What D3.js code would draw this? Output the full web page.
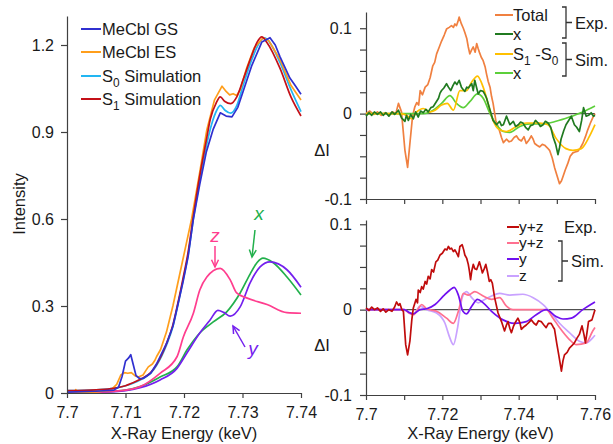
<!DOCTYPE html>
<html>
<head>
<meta charset="utf-8">
<script src="https://cdn.jsdelivr.net/npm/d3@7"></script>
<style>
  html, body { margin: 0; padding: 0; background: #fff; }
  svg { display: block; font-family: "Liberation Sans", Arial, sans-serif; }
  .axis path, .axis line { stroke: #404040; stroke-width: 1.2; }
  .axis text { fill: #1a1a1a; font-size: 16px; font-family: "Liberation Sans", Arial, sans-serif; }
</style>
</head>
<body>
<svg id="chart" width="613" height="444"></svg>
<script>
// ---------- XANES spectra (left panel): [energy keV, normalized intensity] ----------
const mecblGS = [[7.700,0.003],[7.705,0.006],[7.708,0.010],[7.7088,0.020],[7.7094,0.056],[7.7100,0.110],[7.7105,0.120],[7.7109,0.132],[7.7113,0.100],[7.7118,0.060],[7.7124,0.050],[7.7130,0.050],[7.7143,0.068],[7.7153,0.100],[7.7170,0.170],[7.7181,0.230],[7.7189,0.300],[7.7198,0.380],[7.7207,0.470],[7.7216,0.600],[7.7227,0.720],[7.7238,0.830],[7.7250,0.910],[7.7262,0.966],[7.7272,0.955],[7.7282,0.952],[7.7292,0.985],[7.7301,1.040],[7.7316,1.130],[7.7333,1.210],[7.7347,1.225],[7.7356,1.200],[7.7364,1.160],[7.7381,1.086],[7.7390,1.060],[7.7400,1.030]];
const mecblES = [[7.700,0.000],[7.7013,0.000],[7.7015,0.012],[7.7018,0.000],[7.705,0.004],[7.7075,0.010],[7.7085,0.030],[7.7092,0.062],[7.7098,0.070],[7.7104,0.068],[7.7110,0.070],[7.7116,0.060],[7.7122,0.055],[7.7130,0.062],[7.7135,0.078],[7.7139,0.090],[7.7146,0.100],[7.7150,0.112],[7.7153,0.125],[7.7160,0.150],[7.7170,0.210],[7.7181,0.300],[7.7197,0.450],[7.7213,0.600],[7.7226,0.750],[7.7239,0.907],[7.7252,1.010],[7.7265,1.058],[7.7272,1.040],[7.7278,1.028],[7.7284,1.032],[7.7290,1.026],[7.7296,1.045],[7.7307,1.120],[7.7320,1.190],[7.7335,1.225],[7.7345,1.215],[7.7364,1.150],[7.7383,1.060],[7.7400,1.010]];
const simS0 = [[7.700,0.008],[7.705,0.011],[7.708,0.016],[7.710,0.025],[7.712,0.040],[7.7130,0.050],[7.7143,0.068],[7.7153,0.095],[7.7170,0.165],[7.7181,0.228],[7.7189,0.298],[7.7198,0.385],[7.7207,0.475],[7.7216,0.600],[7.7227,0.735],[7.7238,0.850],[7.7247,0.925],[7.7256,0.975],[7.7262,0.992],[7.7270,0.975],[7.7280,0.965],[7.7290,0.990],[7.7301,1.060],[7.7316,1.150],[7.7328,1.205],[7.7338,1.225],[7.7346,1.210],[7.7364,1.140],[7.7383,1.045],[7.7400,0.970]];
const simS1 = [[7.700,0.008],[7.705,0.011],[7.708,0.016],[7.710,0.025],[7.712,0.042],[7.7130,0.052],[7.7143,0.070],[7.7153,0.098],[7.7170,0.170],[7.7181,0.235],[7.7189,0.305],[7.7198,0.392],[7.7207,0.485],[7.7216,0.610],[7.7227,0.750],[7.7238,0.870],[7.7245,0.945],[7.7255,1.000],[7.7262,1.021],[7.7270,1.005],[7.7280,0.998],[7.7290,1.020],[7.7301,1.080],[7.7316,1.165],[7.7325,1.210],[7.7333,1.228],[7.7342,1.208],[7.7364,1.120],[7.7383,1.020],[7.7400,0.955]];
// polarized components of the simulated spectrum
const compX = [[7.700,0.000],[7.705,0.003],[7.710,0.010],[7.7125,0.022],[7.7159,0.055],[7.7188,0.090],[7.7205,0.148],[7.7227,0.207],[7.7250,0.245],[7.7273,0.280],[7.7296,0.345],[7.7313,0.410],[7.7325,0.450],[7.7335,0.465],[7.7352,0.450],[7.7376,0.400],[7.7400,0.338]];
const compY = [[7.700,0.000],[7.705,0.002],[7.710,0.008],[7.7125,0.018],[7.7159,0.045],[7.7188,0.085],[7.7205,0.138],[7.7227,0.207],[7.7244,0.250],[7.7258,0.285],[7.7268,0.278],[7.7279,0.265],[7.7296,0.297],[7.7313,0.380],[7.7330,0.435],[7.7347,0.452],[7.7376,0.425],[7.7400,0.365]];
const compZ = [[7.700,0.000],[7.705,0.003],[7.710,0.010],[7.7125,0.022],[7.7159,0.068],[7.7188,0.125],[7.7199,0.194],[7.7216,0.275],[7.7227,0.355],[7.7239,0.400],[7.7262,0.430],[7.7279,0.390],[7.7290,0.345],[7.7307,0.328],[7.7342,0.305],[7.7376,0.277],[7.7400,0.275]];

// ---------- difference spectra, upper right: [energy keV, ΔI] ----------
const diffTotalExp = [[7.7000,0.000],[7.7010,0.003],[7.7020,-0.001],[7.7030,0.002],[7.7040,-0.002],[7.7050,0.001],[7.7060,-0.001],[7.7070,0.002],[7.7078,0.000],[7.7085,0.012],[7.7093,0.002],[7.7102,-0.043],[7.7109,-0.063],[7.7115,-0.035],[7.7122,-0.003],[7.7128,0.008],[7.7133,0.013],[7.7138,0.010],[7.7142,0.027],[7.7148,0.022],[7.7155,0.031],[7.7162,0.034],[7.7168,0.042],[7.7175,0.056],[7.7180,0.060],[7.7185,0.070],[7.7192,0.078],[7.7198,0.085],[7.7205,0.092],[7.7211,0.099],[7.7218,0.101],[7.7224,0.103],[7.7229,0.101],[7.7233,0.105],[7.7237,0.103],[7.7241,0.108],[7.7244,0.113],[7.7250,0.105],[7.7255,0.100],[7.7259,0.095],[7.7264,0.088],[7.7268,0.078],[7.7272,0.070],[7.7277,0.075],[7.7281,0.078],[7.7286,0.072],[7.7290,0.082],[7.7294,0.076],[7.7297,0.072],[7.7302,0.066],[7.7307,0.062],[7.7312,0.055],[7.7316,0.046],[7.7320,0.038],[7.7325,0.031],[7.7329,0.020],[7.7333,0.012],[7.7340,-0.008],[7.7349,-0.019],[7.7355,-0.028],[7.7360,-0.034],[7.7368,-0.030],[7.7375,-0.033],[7.7381,-0.032],[7.7388,-0.028],[7.7394,-0.026],[7.7400,-0.030],[7.7407,-0.032],[7.7414,-0.027],[7.7420,-0.035],[7.7427,-0.031],[7.7433,-0.026],[7.7438,-0.030],[7.7442,-0.035],[7.7448,-0.037],[7.7455,-0.039],[7.7462,-0.036],[7.7468,-0.037],[7.7475,-0.040],[7.7481,-0.043],[7.7488,-0.052],[7.7494,-0.063],[7.7500,-0.072],[7.7507,-0.082],[7.7512,-0.079],[7.7516,-0.074],[7.7522,-0.066],[7.7529,-0.058],[7.7535,-0.050],[7.7542,-0.046],[7.7548,-0.045],[7.7555,-0.044],[7.7562,-0.040],[7.7568,-0.035],[7.7575,-0.027],[7.7581,-0.019],[7.7588,-0.011],[7.7594,-0.005],[7.7600,0.000]];
const diffXExp = [[7.7000,-0.003],[7.7008,0.001],[7.7015,-0.002],[7.7022,0.002],[7.7030,-0.001],[7.7038,0.002],[7.7045,-0.002],[7.7052,0.001],[7.7060,-0.003],[7.7068,0.002],[7.7075,-0.001],[7.7085,0.004],[7.7093,-0.005],[7.7102,-0.009],[7.7106,-0.002],[7.7111,-0.008],[7.7117,-0.001],[7.7124,-0.006],[7.7130,0.002],[7.7137,-0.004],[7.7143,0.003],[7.7150,0.001],[7.7157,0.005],[7.7163,0.002],[7.7170,0.007],[7.7176,0.008],[7.7183,0.013],[7.7190,0.018],[7.7194,0.024],[7.7198,0.027],[7.7204,0.030],[7.7211,0.035],[7.7216,0.031],[7.7222,0.027],[7.7228,0.033],[7.7233,0.037],[7.7238,0.034],[7.7244,0.039],[7.7250,0.031],[7.7255,0.028],[7.7259,0.026],[7.7264,0.031],[7.7268,0.030],[7.7273,0.033],[7.7277,0.035],[7.7281,0.027],[7.7285,0.039],[7.7290,0.030],[7.7294,0.023],[7.7300,0.027],[7.7307,0.026],[7.7312,0.022],[7.7316,0.018],[7.7321,0.010],[7.7325,0.004],[7.7333,-0.008],[7.7342,-0.013],[7.7350,-0.009],[7.7355,-0.014],[7.7360,-0.013],[7.7368,-0.003],[7.7377,-0.013],[7.7386,-0.009],[7.7392,-0.015],[7.7399,-0.013],[7.7405,-0.010],[7.7411,-0.011],[7.7418,-0.016],[7.7425,-0.019],[7.7431,-0.014],[7.7438,-0.013],[7.7444,-0.008],[7.7451,-0.011],[7.7457,-0.015],[7.7464,-0.013],[7.7470,-0.009],[7.7477,-0.011],[7.7484,-0.016],[7.7490,-0.027],[7.7497,-0.036],[7.7503,-0.048],[7.7507,-0.040],[7.7511,-0.030],[7.7518,-0.020],[7.7524,-0.013],[7.7531,-0.008],[7.7538,-0.003],[7.7546,-0.013],[7.7552,-0.016],[7.7559,-0.021],[7.7565,-0.008],[7.7570,0.007],[7.7577,-0.003],[7.7583,-0.002],[7.7590,0.001],[7.7596,-0.003],[7.7600,-0.002]];
const diffS1S0Sim = [[7.7000,0.000],[7.7090,0.000],[7.7106,-0.002],[7.7119,-0.006],[7.7133,0.002],[7.7150,0.006],[7.7168,0.002],[7.7181,0.004],[7.7198,0.010],[7.7213,0.012],[7.7229,0.004],[7.7246,0.027],[7.7263,0.027],[7.7277,0.037],[7.7292,0.044],[7.7307,0.031],[7.7321,0.010],[7.7333,-0.008],[7.7350,-0.019],[7.7368,-0.021],[7.7394,-0.015],[7.7420,-0.011],[7.7455,-0.011],[7.7477,-0.013],[7.7498,-0.029],[7.7524,-0.041],[7.7542,-0.043],[7.7564,-0.041],[7.7585,-0.027],[7.7600,-0.013]];
const diffXSim = [[7.7000,0.000],[7.7150,0.000],[7.7176,0.004],[7.7198,0.012],[7.7220,0.021],[7.7237,0.012],[7.7255,0.007],[7.7272,0.014],[7.7292,0.023],[7.7307,0.018],[7.7325,0.000],[7.7342,-0.013],[7.7360,-0.021],[7.7377,-0.022],[7.7403,-0.015],[7.7429,-0.012],[7.7464,-0.012],[7.7498,-0.009],[7.7533,-0.004],[7.7568,0.002],[7.7600,0.009]];

// ---------- difference spectra, lower right ----------
const diffYZExp = [[7.7000,0.002],[7.7008,-0.001],[7.7015,0.003],[7.7022,0.000],[7.7030,0.002],[7.7038,-0.002],[7.7045,0.001],[7.7052,-0.003],[7.7060,0.000],[7.7068,-0.002],[7.7075,0.003],[7.7080,0.009],[7.7085,0.005],[7.7089,0.007],[7.7094,0.000],[7.7098,-0.002],[7.7104,-0.041],[7.7109,-0.053],[7.7115,-0.037],[7.7120,-0.012],[7.7124,0.002],[7.7131,0.012],[7.7135,0.008],[7.7137,0.023],[7.7142,0.020],[7.7146,0.027],[7.7150,0.024],[7.7155,0.033],[7.7159,0.030],[7.7163,0.039],[7.7168,0.036],[7.7172,0.047],[7.7177,0.044],[7.7183,0.056],[7.7188,0.058],[7.7194,0.064],[7.7200,0.066],[7.7207,0.071],[7.7212,0.070],[7.7216,0.074],[7.7220,0.071],[7.7224,0.072],[7.7229,0.068],[7.7233,0.070],[7.7238,0.066],[7.7242,0.062],[7.7246,0.074],[7.7252,0.076],[7.7256,0.070],[7.7259,0.064],[7.7264,0.060],[7.7268,0.053],[7.7271,0.045],[7.7274,0.035],[7.7277,0.045],[7.7281,0.053],[7.7285,0.048],[7.7290,0.047],[7.7294,0.052],[7.7297,0.056],[7.7301,0.050],[7.7305,0.043],[7.7310,0.048],[7.7314,0.053],[7.7318,0.045],[7.7323,0.033],[7.7327,0.035],[7.7331,0.031],[7.7337,0.014],[7.7346,-0.004],[7.7355,-0.014],[7.7363,-0.025],[7.7368,-0.018],[7.7372,-0.014],[7.7377,-0.022],[7.7381,-0.027],[7.7386,-0.020],[7.7390,-0.016],[7.7398,-0.010],[7.7403,-0.015],[7.7407,-0.023],[7.7414,-0.020],[7.7420,-0.018],[7.7427,-0.015],[7.7433,-0.012],[7.7440,-0.016],[7.7446,-0.018],[7.7452,-0.013],[7.7459,-0.014],[7.7466,-0.018],[7.7472,-0.021],[7.7478,-0.016],[7.7485,-0.016],[7.7490,-0.020],[7.7494,-0.023],[7.7500,-0.040],[7.7505,-0.053],[7.7512,-0.072],[7.7516,-0.060],[7.7520,-0.053],[7.7527,-0.050],[7.7533,-0.045],[7.7540,-0.042],[7.7546,-0.039],[7.7552,-0.034],[7.7559,-0.029],[7.7566,-0.019],[7.7571,-0.029],[7.7575,-0.039],[7.7579,-0.027],[7.7583,-0.014],[7.7592,-0.012],[7.7600,0.000]];
const diffYZSim = [[7.7000,0.000],[7.7100,0.000],[7.7112,-0.004],[7.7124,-0.006],[7.7137,0.001],[7.7146,0.006],[7.7159,0.001],[7.7185,-0.002],[7.7211,-0.010],[7.7229,-0.016],[7.7242,-0.002],[7.7255,0.019],[7.7268,0.017],[7.7285,0.021],[7.7307,0.016],[7.7329,0.012],[7.7350,0.014],[7.7368,0.004],[7.7385,0.000],[7.7440,0.000],[7.7472,0.000],[7.7490,-0.010],[7.7507,-0.021],[7.7533,-0.035],[7.7551,-0.041],[7.7577,-0.039],[7.7594,-0.025],[7.7600,-0.021]];
const diffYSim = [[7.7000,0.000],[7.7100,0.000],[7.7112,-0.003],[7.7124,-0.005],[7.7142,0.000],[7.7159,0.001],[7.7181,0.006],[7.7203,0.016],[7.7220,0.023],[7.7231,0.026],[7.7242,0.017],[7.7254,-0.002],[7.7263,-0.005],[7.7277,0.004],[7.7292,0.012],[7.7307,0.008],[7.7329,-0.002],[7.7359,-0.012],[7.7390,-0.016],[7.7420,-0.014],[7.7446,-0.006],[7.7472,0.000],[7.7498,-0.008],[7.7516,-0.011],[7.7538,-0.010],[7.7568,0.000],[7.7600,0.009]];
const diffZSim = [[7.7000,0.000],[7.7100,0.000],[7.7112,-0.003],[7.7124,-0.005],[7.7142,0.004],[7.7159,0.000],[7.7185,-0.004],[7.7207,-0.016],[7.7218,-0.031],[7.7229,-0.041],[7.7240,-0.021],[7.7252,0.014],[7.7263,0.021],[7.7277,0.014],[7.7294,0.008],[7.7311,0.012],[7.7329,0.016],[7.7350,0.019],[7.7377,0.017],[7.7411,0.018],[7.7438,0.014],[7.7464,0.006],[7.7485,-0.004],[7.7507,-0.016],[7.7533,-0.027],[7.7559,-0.037],[7.7577,-0.039],[7.7594,-0.033],[7.7600,-0.030]];

// ---------- tick values ----------
const leftEnergyTicks = [7.70, 7.71, 7.72, 7.73, 7.74];
const leftIntensityTicks = [0, 0.3, 0.6, 0.9, 1.2];
const rightEnergyTicks = [7.70, 7.71, 7.72, 7.73, 7.74, 7.75, 7.76];
const rightEnergyLabels = [7.70, 7.72, 7.74, 7.76];
const deltaTicks = [-0.1, -0.075, -0.05, -0.025, 0, 0.025, 0.05, 0.075, 0.1];
const deltaLabels = [-0.1, 0, 0.1];

const svg = d3.select("#chart");

const eFmt = d => String(+d.toFixed(2));
const near = (a, b) => Math.abs(a - b) < 1e-9;

// ---------- left panel ----------
const xL = d3.scaleLinear().domain([7.70, 7.74]).range([67, 301]);
const yL = d3.scaleLinear().domain([0, 1.3]).range([393, 16]);

const gL = svg.append("g");
const lineL = d3.line().x(d => xL(d[0])).y(d => yL(d[1]));
const smoothL = d3.line().x(d => xL(d[0])).y(d => yL(d[1])).curve(d3.curveMonotoneX);

const leftSeries = [
  { data: compX, color: "#22b04c", smooth: true },
  { data: compY, color: "#7420ee", smooth: true },
  { data: compZ, color: "#ff3d8e", smooth: true },
  { data: simS0, color: "#22b6f2", smooth: true },
  { data: mecblES, color: "#ff9e1b", smooth: false },
  { data: simS1, color: "#c41018", smooth: true },
  { data: mecblGS, color: "#3030d0", smooth: false }
];
leftSeries.forEach(s => {
  gL.append("path").datum(s.data)
    .attr("fill", "none").attr("stroke", s.color).attr("stroke-width", 1.7)
    .attr("stroke-linejoin", "round")
    .attr("d", s.smooth ? smoothL : lineL);
});

gL.append("g").attr("class", "axis").attr("transform", "translate(0,393)")
  .call(d3.axisBottom(xL).tickValues(leftEnergyTicks).tickFormat(eFmt).tickSize(5).tickSizeOuter(0).tickPadding(9));
gL.append("g").attr("class", "axis").attr("transform", "translate(67,0)")
  .call(d3.axisLeft(yL).tickValues(leftIntensityTicks).tickFormat(d => d === 0 ? "0" : d3.format(".1f")(d)).tickSize(6).tickSizeOuter(0).tickPadding(7));

gL.append("text").attr("x", 184).attr("y", 439).attr("text-anchor", "middle")
  .attr("font-size", 16.5).attr("fill", "#1a1a1a").text("X-Ray Energy (keV)");
gL.append("text").attr("transform", "translate(25,204) rotate(-90)").attr("text-anchor", "middle")
  .attr("font-size", 16.5).attr("fill", "#1a1a1a").text("Intensity");

// legend
const legendL = [
  { label: ["MeCbl GS"], color: "#3030d0" },
  { label: ["MeCbl ES"], color: "#ff9e1b" },
  { label: ["S", "0", " Simulation"], color: "#22b6f2" },
  { label: ["S", "1", " Simulation"], color: "#c41018" }
];
const legendRows = [29, 52, 76, 99];

function subLabel(textSel, parts, size) {
  // parts alternate: normal, subscript, normal, subscript ...
  parts.forEach((p, i) => {
    const sub = i % 2 === 1;
    textSel.append("tspan").text(p)
      .attr("font-size", sub ? size * 0.72 : size)
      .attr("dy", sub ? 5 : (i > 0 ? -5 : 0));
  });
}

legendL.forEach((d, i) => {
  const y = legendRows[i];
  gL.append("line").attr("x1", 81).attr("x2", 101).attr("y1", y).attr("y2", y)
    .attr("stroke", d.color).attr("stroke-width", 2);
  const t = gL.append("text").attr("x", 102).attr("y", y + 6).attr("font-size", 16.5).attr("fill", "#1a1a1a");
  subLabel(t, d.label, 16.5);
});

// component annotations
function arrow(g, x1, y1, x2, y2, color) {
  g.append("line").attr("x1", x1).attr("y1", y1).attr("x2", x2).attr("y2", y2)
    .attr("stroke", color).attr("stroke-width", 1.5);
  const a = Math.atan2(y2 - y1, x2 - x1), L = 8, w = 0.45;
  const p = [
    [x2 - L * Math.cos(a - w), y2 - L * Math.sin(a - w)],
    [x2, y2],
    [x2 - L * Math.cos(a + w), y2 - L * Math.sin(a + w)]
  ];
  g.append("path").attr("d", d3.line()(p)).attr("fill", "none")
    .attr("stroke", color).attr("stroke-width", 1.5);
}
const annot = [
  { t: "x", tx: 259, ty: 220, color: "#22b04c", a: [255, 230, 252, 257] },
  { t: "z", tx: 215, ty: 242, color: "#ff3d8e", a: [215, 246, 215, 267] },
  { t: "y", tx: 253, ty: 355, color: "#7420ee", a: [245, 347, 233, 326] }
];
annot.forEach(d => {
  gL.append("text").attr("x", d.tx).attr("y", d.ty).attr("text-anchor", "middle")
    .attr("font-size", 19).attr("font-style", "italic").attr("fill", d.color).text(d.t);
  arrow(gL, ...d.a, d.color);
});

// ---------- right panels ----------
const xR = d3.scaleLinear().domain([7.70, 7.76]).range([366, 595]);
const yRT = d3.scaleLinear().domain([-0.1, 0.119]).range([199, 12]);
const yRB = d3.scaleLinear().domain([-0.1, 0.105]).range([395, 220]);

function deltaAxis(g, y, xLabels) {
  g.append("line").attr("x1", xR(7.70)).attr("x2", xR(7.76)).attr("y1", y(0)).attr("y2", y(0))
    .attr("stroke", "#505050").attr("stroke-width", 1.4);
  g.append("g").attr("class", "axis").attr("transform", `translate(0,${y(-0.1)})`)
    .call(d3.axisBottom(xR).tickValues(rightEnergyTicks).tickSize(5).tickSizeOuter(0).tickPadding(9)
      .tickFormat(d => xLabels && rightEnergyLabels.some(v => near(v, d)) ? eFmt(d) : ""));
  g.append("g").attr("class", "axis").attr("transform", "translate(366,0)")
    .call(d3.axisLeft(y).tickValues(deltaTicks).tickSize(6).tickSizeOuter(0).tickPadding(8)
      .tickFormat(d => deltaLabels.some(v => near(v, d)) ? (near(d, 0) ? "0" : d3.format(".1f")(d).replace("\u2212", "-")) : ""));
}

const lineR = (y, smooth) => {
  const l = d3.line().x(d => xR(d[0])).y(d => y(d[1]));
  return smooth ? l.curve(d3.curveMonotoneX) : l;
};

// upper right: total and x-polarized difference spectra
const gT = svg.append("g");
deltaAxis(gT, yRT, false);
const topSeries = [
  { data: diffTotalExp, color: "#f08040", smooth: false },
  { data: diffXSim, color: "#5ccf3a", smooth: true },
  { data: diffS1S0Sim, color: "#ffc000", smooth: true },
  { data: diffXExp, color: "#207a20", smooth: false }
];
topSeries.forEach(s => {
  gT.append("path").datum(s.data).attr("fill", "none").attr("stroke", s.color)
    .attr("stroke-width", 1.7).attr("stroke-linejoin", "round").attr("d", lineR(yRT, s.smooth));
});
gT.append("text").attr("x", 322).attr("y", 156).attr("text-anchor", "middle")
  .attr("font-size", 16.5).attr("fill", "#1a1a1a").text("ΔI");

const legendT = [
  { label: ["Total"], color: "#f08040", y: 15 },
  { label: ["x"], color: "#207a20", y: 34 },
  { label: ["S", "1", " -S", "0"], color: "#ffc000", y: 54 },
  { label: ["x"], color: "#5ccf3a", y: 73 }
];
legendT.forEach(d => {
  gT.append("line").attr("x1", 495).attr("x2", 513).attr("y1", d.y).attr("y2", d.y)
    .attr("stroke", d.color).attr("stroke-width", 2);
  const t = gT.append("text").attr("x", 513).attr("y", d.y + 6).attr("font-size", 16.5).attr("fill", "#1a1a1a");
  subLabel(t, d.label, 16.5);
});

function bracket(g, x, y1, y2, label) {
  const ym = (y1 + y2) / 2;
  g.append("path")
    .attr("d", `M${x - 4},${y1}H${x}V${y2}H${x - 4}M${x},${ym}H${x + 6}`)
    .attr("fill", "none").attr("stroke", "#333").attr("stroke-width", 1.3);
  g.append("text").attr("x", x + 9).attr("y", ym + 6).attr("font-size", 16.5).attr("fill", "#1a1a1a").text(label);
}
bracket(gT, 566, 7, 38, "Exp.");
bracket(gT, 566, 43, 76, "Sim.");

// lower right: y+z difference spectra
const gB = svg.append("g");
deltaAxis(gB, yRB, true);
const bottomSeries = [
  { data: diffZSim, color: "#c9a2ff", smooth: true },
  { data: diffYZSim, color: "#ff7090", smooth: true },
  { data: diffYSim, color: "#7010f0", smooth: true },
  { data: diffYZExp, color: "#c00c0c", smooth: false }
];
bottomSeries.forEach(s => {
  gB.append("path").datum(s.data).attr("fill", "none").attr("stroke", s.color)
    .attr("stroke-width", 1.7).attr("stroke-linejoin", "round").attr("d", lineR(yRB, s.smooth));
});
gB.append("text").attr("x", 322).attr("y", 351).attr("text-anchor", "middle")
  .attr("font-size", 16.5).attr("fill", "#1a1a1a").text("ΔI");
gB.append("text").attr("x", 480.5).attr("y", 439).attr("text-anchor", "middle")
  .attr("font-size", 16.5).attr("fill", "#1a1a1a").text("X-Ray Energy (keV)");

const legendB = [
  { label: "y+z", color: "#c00c0c", y: 227 },
  { label: "y+z", color: "#ff7090", y: 243 },
  { label: "y", color: "#7010f0", y: 259 },
  { label: "z", color: "#c9a2ff", y: 276 }
];
legendB.forEach(d => {
  gB.append("line").attr("x1", 507).attr("x2", 519).attr("y1", d.y).attr("y2", d.y)
    .attr("stroke", d.color).attr("stroke-width", 2);
  gB.append("text").attr("x", 519).attr("y", d.y + 5).attr("font-size", 15.5).attr("fill", "#1a1a1a").text(d.label);
});
gB.append("text").attr("x", 564).attr("y", 233).attr("font-size", 16.5).attr("fill", "#1a1a1a").text("Exp.");
bracket(gB, 562, 241, 281, "Sim.");
</script>
</body>
</html>
